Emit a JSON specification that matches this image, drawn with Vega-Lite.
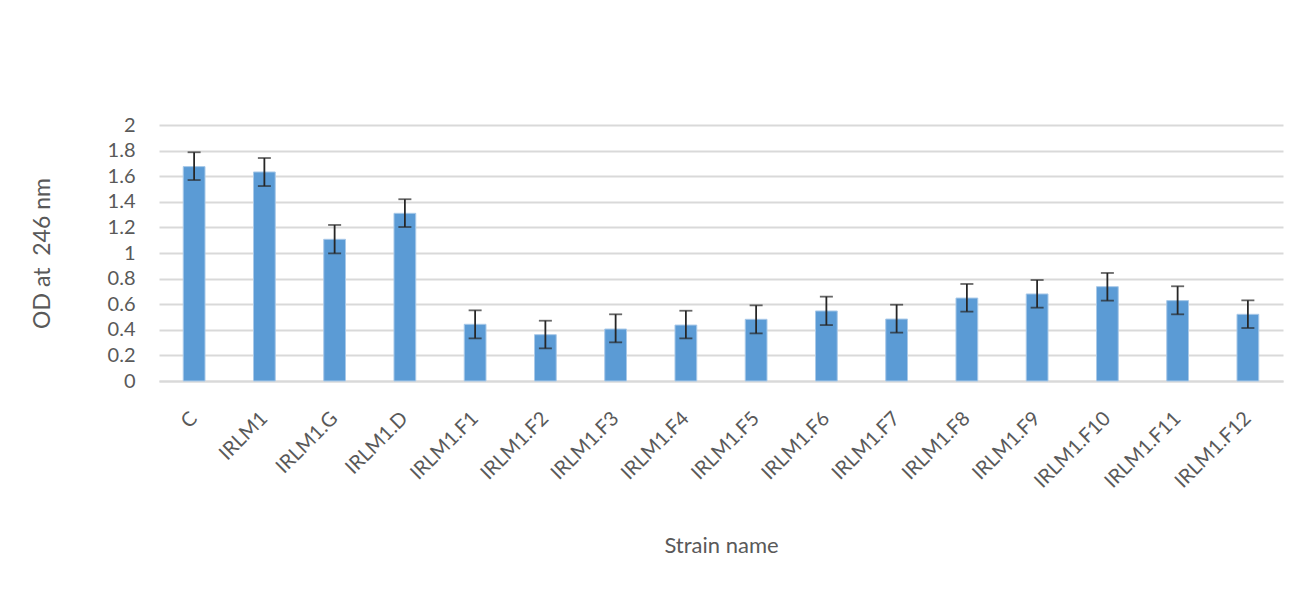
{
  "$schema": "https://vega.github.io/schema/vega-lite/v6.json",
  "width": 1124,
  "height": 256,
  "autosize": {"type": "none"},
  "padding": {"left": 159, "top": 125, "right": 31, "bottom": 218},
  "background": "white",
  "config": {
    "view": {"stroke": null},
    "font": "Lato",
    "axisY": {
      "titleFontSize": 23, "titleFontWeight": "normal", "titleColor": "#595959", "titlePadding": 53,
      "labelFontSize": 20, "labelColor": "#595959", "labelPadding": 24, "labelOverlap": false,
      "ticks": false, "domain": false, "gridColor": "#d9d9d9", "gridWidth": 2
    }
  },
  "data": {"values": [
    {"strain": "C", "od": 1.675, "lo": 1.57, "hi": 1.787},
    {"strain": "IRLM1", "od": 1.633, "lo": 1.523, "hi": 1.742},
    {"strain": "IRLM1.G", "od": 1.107, "lo": 0.997, "hi": 1.219},
    {"strain": "IRLM1.D", "od": 1.31, "lo": 1.203, "hi": 1.42},
    {"strain": "IRLM1.F1", "od": 0.443, "lo": 0.333, "hi": 0.552},
    {"strain": "IRLM1.F2", "od": 0.362, "lo": 0.255, "hi": 0.471},
    {"strain": "IRLM1.F3", "od": 0.406, "lo": 0.302, "hi": 0.521},
    {"strain": "IRLM1.F4", "od": 0.437, "lo": 0.333, "hi": 0.549},
    {"strain": "IRLM1.F5", "od": 0.482, "lo": 0.372, "hi": 0.591},
    {"strain": "IRLM1.F6", "od": 0.547, "lo": 0.437, "hi": 0.659},
    {"strain": "IRLM1.F7", "od": 0.484, "lo": 0.378, "hi": 0.596},
    {"strain": "IRLM1.F8", "od": 0.648, "lo": 0.542, "hi": 0.758},
    {"strain": "IRLM1.F9", "od": 0.68, "lo": 0.573, "hi": 0.789},
    {"strain": "IRLM1.F10", "od": 0.737, "lo": 0.628, "hi": 0.844},
    {"strain": "IRLM1.F11", "od": 0.628, "lo": 0.521, "hi": 0.74},
    {"strain": "IRLM1.F12", "od": 0.521, "lo": 0.414, "hi": 0.63}
  ]},
  "encoding": {
    "x": {
      "field": "strain", "type": "nominal", "sort": null,
      "scale": {"paddingInner": 0.69, "paddingOuter": 0.345},
      "axis": {
        "title": "Strain name", "titleFontSize": 22, "titleFontWeight": "normal", "titleColor": "#595959", "titlePadding": 44,
        "labelAngle": -45, "labelAlign": "right", "labelBaseline": "middle", "labelFontSize": 20, "labelColor": "#595959", "labelPadding": 34,
        "ticks": false, "domainColor": "#d9d9d9", "domainWidth": 2, "grid": false
      }
    }
  },
  "layer": [
    {
      "mark": {"type": "bar", "color": "#5b9bd5", "stroke": "#a9c9e8", "strokeWidth": 1},
      "encoding": {
        "y": {
          "field": "od", "type": "quantitative",
          "scale": {"domain": [0, 2]},
          "axis": {"title": "OD at\u00a0 246 nm", "values": [0, 0.2, 0.4, 0.6, 0.8, 1, 1.2, 1.4, 1.6, 1.8, 2], "format": "~g"}
        }
      }
    },
    {
      "mark": {"type": "rule", "color": "#262626", "strokeWidth": 1.8},
      "encoding": {
        "y": {"field": "lo", "type": "quantitative", "axis": {"title": "OD at\u00a0 246 nm", "values": [0, 0.2, 0.4, 0.6, 0.8, 1, 1.2, 1.4, 1.6, 1.8, 2], "format": "~g"}},
        "y2": {"field": "hi"}
      }
    },
    {
      "mark": {"type": "tick", "color": "#262626", "size": 13, "thickness": 1.8},
      "encoding": {"y": {"field": "lo", "type": "quantitative", "axis": {"title": "OD at\u00a0 246 nm", "values": [0, 0.2, 0.4, 0.6, 0.8, 1, 1.2, 1.4, 1.6, 1.8, 2], "format": "~g"}}}
    },
    {
      "mark": {"type": "tick", "color": "#262626", "size": 13, "thickness": 1.8},
      "encoding": {"y": {"field": "hi", "type": "quantitative", "axis": {"title": "OD at\u00a0 246 nm", "values": [0, 0.2, 0.4, 0.6, 0.8, 1, 1.2, 1.4, 1.6, 1.8, 2], "format": "~g"}}}
    }
  ]
}
